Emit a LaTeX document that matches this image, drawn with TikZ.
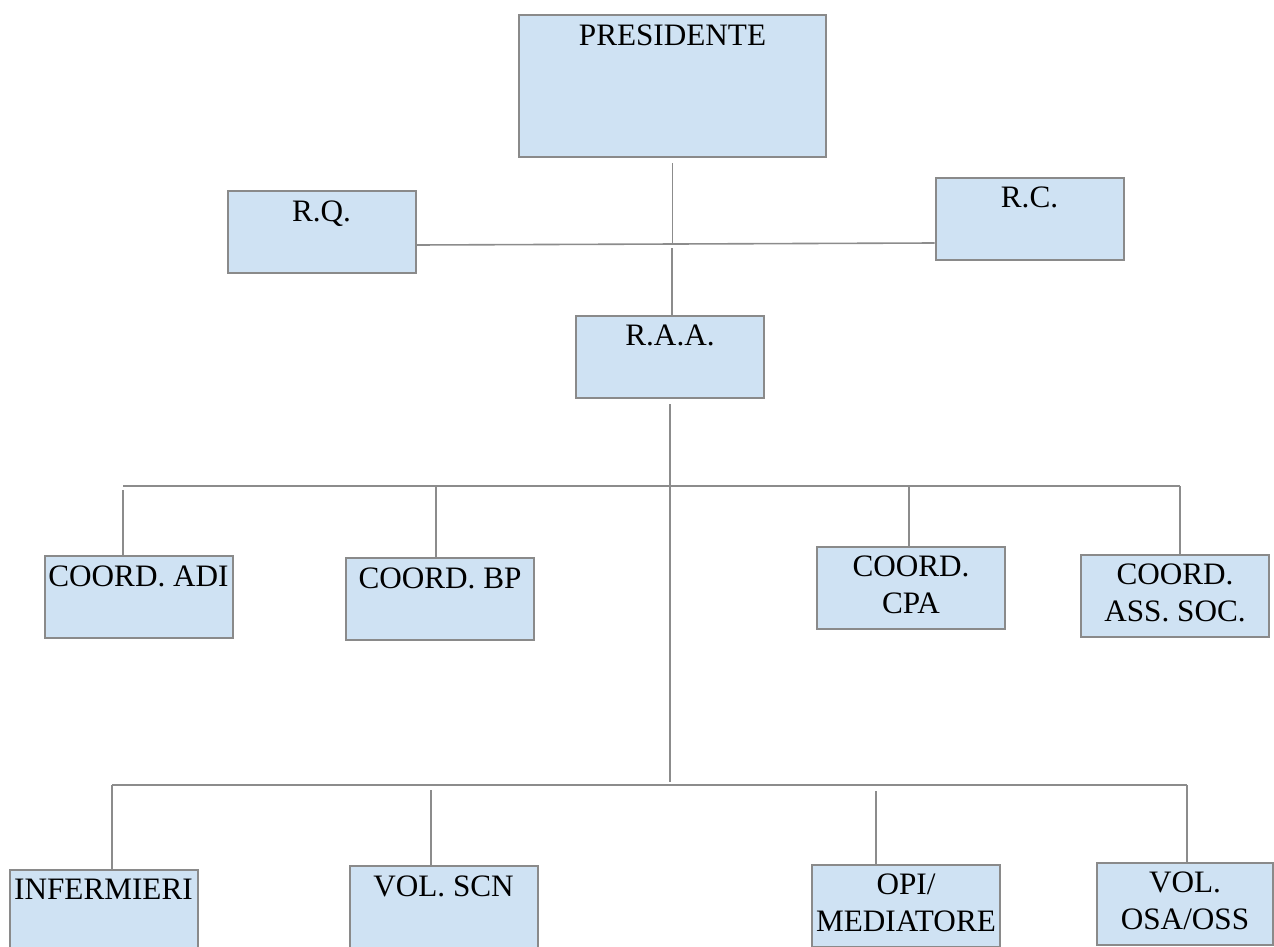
\documentclass[tikz,border=0pt]{standalone}
\usepackage{fontspec}
\setmainfont{Liberation Serif}
\usetikzlibrary{positioning}
\definecolor{boxblue}{HTML}{CFE2F3}
\definecolor{boxgray}{HTML}{8A8A8A}
\definecolor{linegray}{HTML}{8C8C8C}

\begin{document}
\begin{tikzpicture}[x=0.5pt,y=-0.5pt,
	box/.style={rectangle,draw=boxgray,line width=1pt,fill=boxblue,inner sep=0pt,minimum width=94pt,minimum height=41pt},
	lbl/.style={inner sep=0pt,align=center,font=\fontsize{15.6}{18.5}\selectfont},
	conn/.style={draw=linegray,line width=0.8pt}]
	\useasboundingbox (0,0) rectangle (1274,947);
	\clip (0,0) rectangle (1274,947);

	\node[box,minimum width=153.5pt,minimum height=71pt] (pres) at (672.5,86) {};
	\node[box] (rq) at (321.5,232) {};
	\node[box] (rc) at (1029.5,218.5) {};
	\node[box] (raa) at (670,357) {};

	\node[box] (adi) at (138.5,597) {};
	\node[box] (bp) at (440,599) {};
	\node[box] (cpa) at (911,587.5) {};
	\node[box] (ass) at (1175,595.5) {};

	\node[box] (inf) at (103.5,911) {};
	\node[box] (scn) at (443.5,907) {};
	\node[box] (opi) at (906,905.5) {};
	\node[box,minimum width=88pt] (osa) at (1185,903.5) {};

	\foreach \n/\t in {pres/PRESIDENTE,rq/R.Q.,rc/R.C.,raa/R.A.A.,
		adi/COORD. ADI,bp/COORD. BP,cpa/{COORD.\\CPA},ass/{COORD.\\ASS. SOC.},
		inf/INFERMIERI,scn/VOL. SCN,opi/{OPI/\\MEDIATORE},osa/{VOL.\\OSA/OSS}}
		\node[lbl,below=5pt of \n.north] (\n-txt) {\t};

	\coordinate (jtop) at (672,245);
	\coordinate (jlow) at (669,785);

	\draw[conn,shorten <=2.5pt] (pres.south) -- (pres.south |- jtop);
	\draw[conn,shorten <=1.5pt] (jtop) -- (jtop |- raa.north);
	\draw[conn] ([yshift=-6.5pt]rq.east) -- ([yshift=-12.25pt]rc.west);
	\draw[conn,shorten <=2.5pt,shorten >=1.5pt] (raa.south) -- (raa.south |- jlow);

	\foreach \n/\x/\g in {adi/123/2,bp/436/0,cpa/909/0,ass/1180/0}{
		\coordinate (\n-up) at (\x,486);
		\draw[conn,shorten <=\g pt] (\n-up) -- (\n-up |- \n.north);
	}
	\draw[conn] (adi-up) -- (ass-up);

	\foreach \n/\x/\g in {inf/112/0,scn/431/2.5,opi/876/3,osa/1187/0}{
		\coordinate (\n-up) at (\x,785);
		\draw[conn,shorten <=\g pt] (\n-up) -- (\n-up |- \n.north);
	}
	\draw[conn] (inf-up) -- (osa-up);
\end{tikzpicture}
\end{document}
